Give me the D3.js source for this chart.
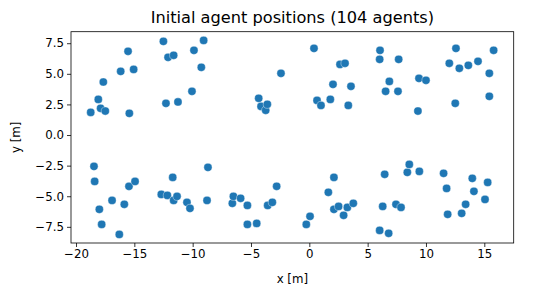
<!DOCTYPE html>
<html><head><meta charset="utf-8">
<script src="https://cdn.jsdelivr.net/npm/d3@7"></script>
<style>body{margin:0;background:#fff}svg{display:block;font-family:"DejaVu Sans",sans-serif}</style>
</head><body>
<svg id="c" width="548" height="297"></svg>
<script>
const title = "Initial agent positions (104 agents)";
const xLabel = "x [m]";
const yLabel = "y [m]";
const xTicks = [-20, -15, -10, -5, 0, 5, 10, 15];
const yTicks = [-7.5, -5.0, -2.5, 0.0, 2.5, 5.0, 7.5];
const xs = [
 -18.74,-18.09,-17.89,-17.49,-17.66,-15.54,-16.17,-15.06,-15.43,-12.51,
 -12.11,-11.63,-12.29,-11.26,-10.06,-9.89,-9.06,-9.26,-4.34,-4.14,
 -3.74,-3.60,-2.43,0.40,0.66,1.00,1.80,2.03,2.63,3.06,
 3.34,3.57,6.06,6.03,6.86,6.54,7.66,7.60,9.40,10.00,
 9.31,12.00,12.57,12.86,12.51,13.63,14.46,15.43,15.43,15.80,
 -18.46,-18.40,-18.00,-17.80,-16.91,-16.29,-15.86,-15.46,-14.94,-12.69,
 -12.17,-11.71,-11.63,-11.34,-10.49,-10.23,-8.77,-8.69,-6.60,-6.51,
 -5.89,-5.31,-5.31,-4.51,-3.57,-3.17,-2.80,-0.26,0.06,1.63,
 2.11,2.11,2.51,2.94,3.26,3.77,6.03,6.29,6.46,6.80,
 7.43,7.86,8.40,8.57,9.43,11.51,11.77,11.86,13.06,13.40,
 13.97,14.11,15.06,15.29];
const ys = [
 1.85,2.91,2.18,1.96,4.33,6.84,5.20,5.36,1.77,7.65,
 6.35,6.51,2.59,2.70,3.57,6.92,7.73,5.53,3.00,2.34,
 2.02,2.51,5.04,7.08,2.83,2.42,2.91,4.14,5.77,5.86,
 2.42,3.98,6.92,6.18,4.38,3.57,6.18,3.57,4.63,4.47,
 1.96,5.86,7.08,5.45,2.59,5.69,6.02,5.04,3.16,6.92,
 -2.56,-3.79,-6.07,-7.30,-5.34,-8.12,-5.66,-4.19,-3.79,-4.85,
 -4.93,-3.46,-5.34,-5.01,-5.50,-5.99,-5.34,-2.64,-5.58,-5.01,
 -5.17,-5.75,-7.30,-7.22,-5.75,-5.50,-4.19,-7.30,-6.64,-4.68,
 -3.46,-6.07,-5.83,-6.56,-5.91,-5.58,-7.79,-5.83,-3.21,-8.03,
 -5.66,-5.91,-3.05,-2.40,-2.97,-3.13,-4.36,-6.48,-6.40,-5.66,
 -3.54,-4.60,-5.26,-3.87];

const svg = d3.select("#c");
const L = 71, R = 513.7, T = 31.7, B = 243;
const x = d3.scaleLinear().domain([-20.43, 17.52]).range([L, R]);
const y = d3.scaleLinear().domain([-8.82, 8.44]).range([B, T]);
const fmt = d => (d < 0 ? "\u2212" : "") + Math.abs(d);
const fmtY = d => (d < 0 ? "\u2212" : "") + Math.abs(d).toFixed(1);

svg.append("g").selectAll("circle").data(xs.map((v,i)=>[v,ys[i]])).join("circle")
  .attr("cx", d => x(d[0])).attr("cy", d => y(d[1])).attr("r", 4.1)
  .attr("fill", "#1f77b4").attr("stroke", "#fff").attr("stroke-width", 0.4);

const gx = svg.append("g").attr("transform", `translate(0,${B})`)
  .call(d3.axisBottom(x).tickValues(xTicks).tickFormat(fmt).tickSize(4).tickPadding(3));
const gy = svg.append("g").attr("transform", `translate(${L},0)`)
  .call(d3.axisLeft(y).tickValues(yTicks).tickFormat(fmtY).tickSize(4).tickPadding(3));
[gx, gy].forEach(g => {
  g.select(".domain").remove();
  g.selectAll("line").attr("stroke", "#000").attr("stroke-width", 0.8);
  g.selectAll("text").attr("fill", "#000").style("font-size", "11.8px").style("font-family", "DejaVu Sans");
});
svg.append("rect").attr("x", L).attr("y", T).attr("width", R-L).attr("height", B-T)
  .attr("fill", "none").attr("stroke", "#000").attr("stroke-width", 0.8);

svg.append("text").attr("x", (L+R)/2).attr("y", 22.5).attr("text-anchor", "middle")
  .style("font-size", "16.2px").text(title);
svg.append("text").attr("x", (L+R)/2).attr("y", 283).attr("text-anchor", "middle")
  .style("font-size", "11.8px").text(xLabel);
svg.append("text").attr("transform", `translate(20,${(T+B)/2}) rotate(-90)`).attr("text-anchor", "middle")
  .style("font-size", "11.8px").text(yLabel);
</script>
</body></html>
